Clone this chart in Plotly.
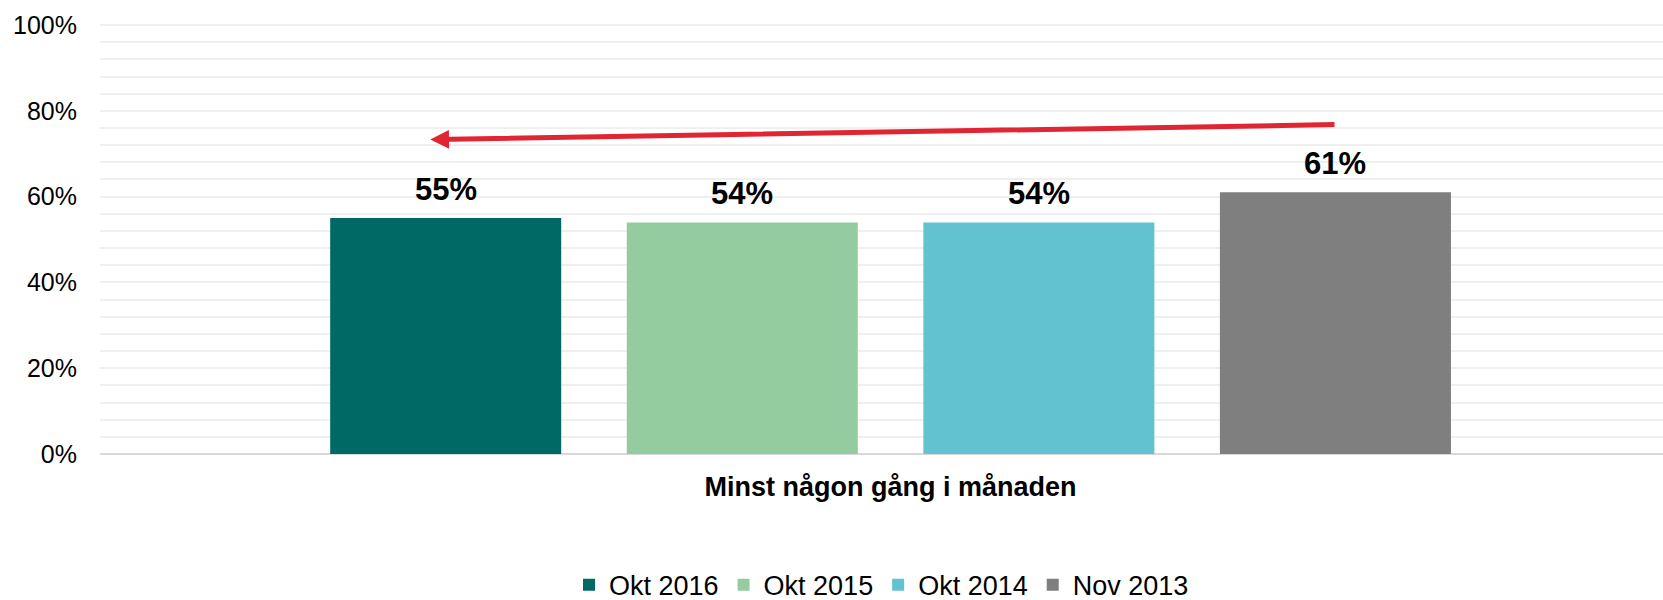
import plotly.graph_objects as go

category = ["Minst någon gång i månaden"]
series_names = ["Okt 2016", "Okt 2015", "Okt 2014", "Nov 2013"]
series_values = [[55], [54], [54], [61]]
series_colors = ["#006966", "#94CB9F", "#62C2D0", "#7F7F7F"]

y_tickvals = [0, 20, 40, 60, 80, 100]
y_ticktext = ["0%", "20%", "40%", "60%", "80%", "100%"]

# trend arrow (from Nov 2013 level back to Okt 2016), in axis units
arrow_tail = (0.285, 76.8)
arrow_head = (-0.2945, 73.3)

FONT = "Arial, Liberation Sans, sans-serif"
W, H = 1663, 600
ML, MR, MT, MB = 100, 0, 24, 146
BARGAP, GROUPGAP = 0.241, 0.221

fig = go.Figure()
for name, vals, col in zip(series_names, series_values, series_colors):
    fig.add_trace(go.Bar(
        name=name, x=category, y=vals,
        marker=dict(color=col, line=dict(width=0)),
        cliponaxis=False,
    ))

# data labels placed above each bar of the group
plot_w = W - ML - MR
slot_px = (1 - BARGAP) * plot_w / len(series_names)
for i, vals in enumerate(series_values):
    for cat, v in zip(category, vals):
        fig.add_annotation(
            x=cat, y=v, xref="x", yref="y", text=f"<b>{v}%</b>", showarrow=False,
            xanchor="center", yanchor="bottom",
            xshift=(i - (len(series_names) - 1) / 2) * slot_px, yshift=9,
            font=dict(family=FONT, size=31, color="#000000"),
        )

fig.add_annotation(
    x=arrow_head[0], y=arrow_head[1], xref="x", yref="y",
    ax=arrow_tail[0], ay=arrow_tail[1], axref="x", ayref="y",
    text="", showarrow=True, arrowhead=2, arrowsize=0.75, arrowwidth=5,
    arrowcolor="#E02632", standoff=0,
)

fig.update_layout(
    width=W, height=H, autosize=False,
    margin=dict(l=ML, r=MR, t=MT, b=MB, autoexpand=False),
    paper_bgcolor="white", plot_bgcolor="white",
    barmode="group", bargap=BARGAP, bargroupgap=GROUPGAP,
    font=dict(family=FONT, color="#000000"),
    showlegend=True,
    legend=dict(orientation="h", x=0.5, xanchor="center", y=-0.305, yanchor="middle",
                font=dict(size=27, family=FONT, color="#000000"),
                itemwidth=30, traceorder="normal"),
    xaxis=dict(type="category", range=[-0.5058, 0.4942], showgrid=False,
               showline=False, ticks="", ticklabelstandoff=14, automargin=False,
               tickfont=dict(family=FONT, size=27, color="#000000", weight="bold")),
    yaxis=dict(range=[0, 100.25], tickvals=y_tickvals, ticktext=y_ticktext,
               showgrid=True, gridcolor="#EFEFEF", gridwidth=2, automargin=False,
               minor=dict(dtick=4, tick0=0, showgrid=True, gridcolor="#EFEFEF", gridwidth=2),
               zeroline=True, zerolinecolor="#D9D9D9", zerolinewidth=2,
               showline=False, ticks="", ticklabelstandoff=22,
               tickfont=dict(family=FONT, size=25, color="#000000")),
)

fig.write_html("out.html", config={"displayModeBar": False},
               post_script="document.body.style.margin='0';document.body.style.overflow='hidden';")
